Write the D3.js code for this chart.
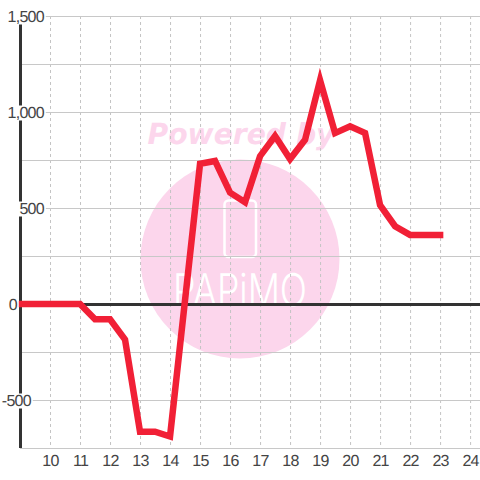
<!DOCTYPE html>
<html><head><meta charset="utf-8">
<script src="https://cdn.jsdelivr.net/npm/d3@7"></script>
<style>html,body{margin:0;padding:0;background:#fff}svg{display:block}text{text-rendering:geometricPrecision}</style>
</head><body><svg id="c" width="480" height="480"></svg>
<script>
const hours=[9,9.5,10,10.5,11,11.5,12,12.5,13,13.5,14,14.5,15,15.5,16,16.5,17,17.5,18,18.5,19,19.5,20,20.5,21,21.5,22,22.5,23];
const values=[0,0,0,0,0,-80,-80,-185,-665,-665,-690,20,730,745,580,530,770,875,755,855,1165,890,925,890,515,405,360,360,360];
const xTicks=[10,11,12,13,14,15,16,17,18,19,20,21,22,23,24];
const yMajor=[1500,1000,500,0,-500];
const yMinor=[1250,750,250,-250,-750];
const yLabelRight=[44,44,44,17,31];
const svg=d3.select('#c');
const x=d3.scaleLinear().domain([9,24.33]).range([20,480]);
const y=d3.scaleLinear().domain([1500,-750]).range([16,448]);
const font='"Liberation Sans",Arial,sans-serif';
svg.append('text').attr('x',241).attr('y',144).attr('text-anchor','middle').attr('font-family','"DejaVu Sans",sans-serif').attr('font-weight','bold').attr('font-style','italic').attr('font-size',29).attr('fill','#fcd6ec').attr('textLength',187).attr('lengthAdjust','spacingAndGlyphs').text('Powered by');
svg.append('circle').attr('cx',240).attr('cy',259).attr('r',99.5).attr('fill','#fcd6ec');
svg.append('rect').attr('x',224.5).attr('y',200.5).attr('width',31.5).attr('height',56.5).attr('rx',4).attr('fill','none').attr('stroke','#fff').attr('stroke-width',2.5);
svg.append('text').attr('x',240).attr('y',306).attr('text-anchor','middle').attr('font-family','Inter,sans-serif').attr('font-weight',300).attr('font-size',45).attr('fill','#fff').attr('textLength',134).attr('lengthAdjust','spacingAndGlyphs').text('PAPiMO');
const g=svg.append('g');
g.selectAll('.v').data(xTicks).join('line').attr('x1',d=>x(d)+.5).attr('x2',d=>x(d)+.5).attr('y1',16).attr('y2',448).attr('stroke','#c4c4c4').attr('stroke-dasharray','3 3');
g.selectAll('.h').data(yMajor.concat(yMinor)).join('line').attr('x1',20).attr('x2',480).attr('y1',d=>y(d)+.5).attr('y2',d=>y(d)+.5).attr('stroke','#c8c8c8');
g.append('line').attr('x1',20.5).attr('x2',20.5).attr('y1',16).attr('y2',448).attr('stroke','#333').attr('stroke-width',3);
g.append('line').attr('x1',20).attr('x2',480).attr('y1',y(0)+.5).attr('y2',y(0)+.5).attr('stroke','#333').attr('stroke-width',3);
const line=d3.line().x((d,i)=>x(hours[i])).y(d=>y(d));
svg.append('path').datum(values).attr('d',line).attr('fill','none').attr('stroke','#f12036').attr('stroke-width',6.5).attr('stroke-linecap','square').attr('stroke-linejoin','miter');
const fmt=d=>d3.format(',')(d).replace('\u2212','-');
const labels=svg.selectAll('.yl').data(yMajor).join('text').attr('x',(d,i)=>yLabelRight[i]).attr('y',d=>y(d)+5.5).attr('text-anchor','end').attr('font-family',font).attr('font-size',16).attr('letter-spacing',-0.7).attr('fill','#444').text(fmt);
labels.each(function(){const b=this.getBBox();svg.append('rect').attr('x',b.x-1).attr('y',b.y+1).attr('width',b.width+2).attr('height',b.height-2).attr('fill','#fff');});
labels.raise();
svg.selectAll('.xl').data(xTicks).join('text').attr('x',d=>x(d)+.5).attr('y',466).attr('text-anchor','middle').attr('font-family',font).attr('font-size',16).attr('letter-spacing',-0.7).attr('fill','#444').text(d=>d);
</script></body></html>
